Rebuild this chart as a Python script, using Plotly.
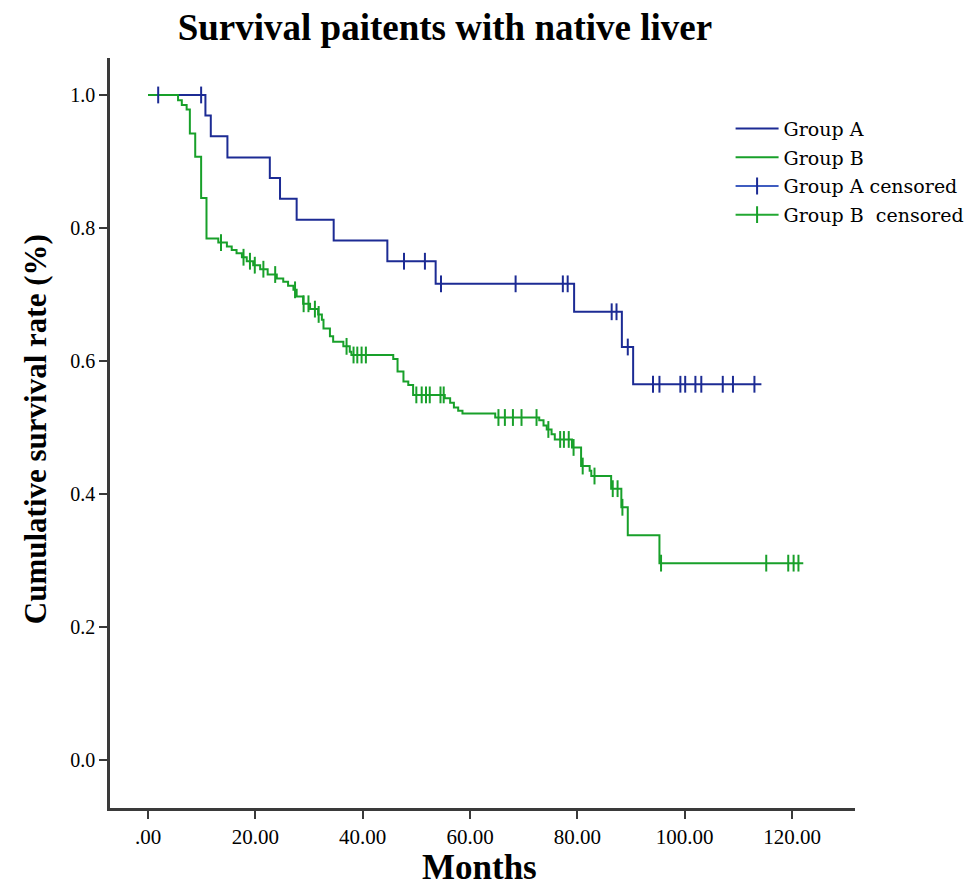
import plotly.graph_objects as go

# ---- Data (Kaplan-Meier step points) ----
group_a_times = [0, 10.7, 11.7, 14.8, 22.7, 24.6, 27.7, 34.6, 44.6, 53.6, 79.4, 88.3, 90.4]
group_a_surv = [1.0, 0.969, 0.938, 0.906, 0.875, 0.844, 0.8125, 0.781, 0.750, 0.716, 0.674, 0.621, 0.565]
group_a_end = 114.3
group_a_censored = [1.9, 9.9, 47.7, 51.6, 54.6, 68.5, 77.3, 78.2, 86.4, 87.3, 89.4,
                    94.1, 95.3, 99.2, 100.1, 102.0, 103.1, 107.1, 109.0, 113.0]

group_b_times = [0, 5.6, 6.3, 7.2, 7.8, 8.8, 9.9, 10.9, 13.1, 14.7, 15.6, 16.5, 17.5, 18.4,
                 19.6, 20.9, 22.3, 24.0, 25.2, 26.1, 27.1, 27.7, 28.9, 30.2, 31.7, 32.4,
                 32.7, 33.9, 34.5, 36.4, 37.6, 37.9, 45.7, 46.5, 47.6, 48.5, 49.4, 55.3,
                 56.3, 57.0, 57.8, 58.6, 64.7, 72.9, 73.7, 74.3, 75.2, 75.8, 79.0, 80.7,
                 82.3, 82.6, 86.3, 88.2, 89.4, 95.3]
group_b_surv = [1.0, 0.992, 0.985, 0.978, 0.942, 0.907, 0.845, 0.784, 0.778, 0.772, 0.767,
                0.762, 0.756, 0.750, 0.744, 0.738, 0.730, 0.724, 0.719, 0.713, 0.707, 0.697,
                0.686, 0.678, 0.670, 0.662, 0.649, 0.637, 0.629, 0.622, 0.614, 0.609, 0.603,
                0.584, 0.569, 0.564, 0.549, 0.544, 0.537, 0.530, 0.525, 0.521, 0.515, 0.511,
                0.503, 0.497, 0.490, 0.482, 0.470, 0.442, 0.435, 0.427, 0.408, 0.380, 0.338,
                0.296]
group_b_end = 122.1
group_b_censored = [13.6, 17.8, 19.0, 19.9, 21.5, 23.7, 27.4, 29.0, 29.9, 31.1, 31.8, 37.0,
                    38.3, 39.0, 39.8, 40.6, 50.0, 51.0, 51.8, 52.5, 54.5, 55.1, 65.3, 66.5,
                    68.0, 69.6, 72.4, 74.6, 76.8, 77.5, 78.4, 79.3, 81.0, 83.2, 86.6, 87.5,
                    88.4, 95.6, 115.2, 119.3, 120.3, 121.2]

x_tick_vals = [0, 20, 40, 60, 80, 100, 120]
x_tick_text = [".00", "20.00", "40.00", "60.00", "80.00", "100.00", "120.00"]
y_tick_vals = [0.0, 0.2, 0.4, 0.6, 0.8, 1.0]
y_tick_text = ["0.0", "0.2", "0.4", "0.6", "0.8", "1.0"]

BLUE = "#1c2b94"
GREEN = "#18a02a"
BLUE_L = "#3f5cc0"
GREEN_L = "#22a832"


def step_value(times, surv, t):
    v = surv[0]
    for ti, si in zip(times, surv):
        if ti <= t:
            v = si
        else:
            break
    return v


def isolated(xs, ys):
    ox, oy = [], []
    for a, b in zip(xs, ys):
        ox += [a, None]
        oy += [b, None]
    return ox, oy


fig = go.Figure()

fig.add_trace(go.Scatter(
    x=group_a_times + [group_a_end], y=group_a_surv + [group_a_surv[-1]],
    mode="lines", line=dict(color=BLUE, width=2, shape="hv"),
    name="Group A", legendgroup="a"))
fig.add_trace(go.Scatter(
    x=group_b_times + [group_b_end], y=group_b_surv + [group_b_surv[-1]],
    mode="lines", line=dict(color=GREEN, width=2, shape="hv"),
    name="Group B", legendgroup="b"))

ca_x, ca_y = isolated(group_a_censored,
                      [step_value(group_a_times, group_a_surv, t) for t in group_a_censored])
cb_x, cb_y = isolated(group_b_censored,
                      [step_value(group_b_times, group_b_surv, t) for t in group_b_censored])

fig.add_trace(go.Scatter(
    x=ca_x, y=ca_y, mode="lines+markers", connectgaps=False,
    line=dict(color=BLUE_L, width=2),
    marker=dict(symbol="line-ns", size=12, line=dict(color=BLUE, width=2)),
    name="Group A censored", legendgroup="ac"))
fig.add_trace(go.Scatter(
    x=cb_x, y=cb_y, mode="lines+markers", connectgaps=False,
    line=dict(color=GREEN_L, width=2),
    marker=dict(symbol="line-ns", size=12, line=dict(color=GREEN, width=2)),
    name="Group B  censored", legendgroup="bc"))

SERIF = "Liberation Serif"

fig.update_layout(
    width=971, height=881,
    margin=dict(l=102, r=124, t=50, b=81, autoexpand=False),
    paper_bgcolor="white", plot_bgcolor="white",
    title=dict(text="Survival paitents with native liver",
               x=0.450, xanchor="center", y=0.978, yanchor="middle", xref="container",
               font=dict(family=SERIF, size=37, color="black", weight="bold")),
    legend=dict(x=0.833, y=0.931, xanchor="left", yanchor="top", itemwidth=43,
                font=dict(family="DejaVu Serif", size=19, color="black"),
                tracegroupgap=1, traceorder="grouped", bgcolor="rgba(0,0,0,0)"),
    showlegend=True,
    annotations=[
        dict(text="<b>Cumulative survival rate (%)</b>", textangle=-90,
             xref="paper", yref="paper", x=-0.1007, y=0.505,
             xanchor="center", yanchor="middle", showarrow=False,
             font=dict(family=SERIF, size=31, color="black")),
        dict(text="<b>Months</b>",
             xref="paper", yref="paper", x=0.4966, y=-0.0787,
             xanchor="center", yanchor="middle", showarrow=False,
             font=dict(family=SERIF, size=35, color="black")),
    ],
)

fig.update_xaxes(
    range=[-7.08, 131.74], tickvals=x_tick_vals, ticktext=x_tick_text, automargin=False,
    showgrid=False, zeroline=False, showline=True, linecolor="#3a3a3a", linewidth=2.5,
    ticks="outside", ticklen=8, tickwidth=2, tickcolor="#3a3a3a",
    tickfont=dict(family=SERIF, size=21, color="black"),
)
fig.update_yaxes(
    range=[-0.0722, 1.0556], tickvals=y_tick_vals, ticktext=y_tick_text, automargin=False,
    showgrid=False, zeroline=False, showline=True, linecolor="#3a3a3a", linewidth=2.5,
    ticks="outside", ticklen=8, tickwidth=2, tickcolor="#3a3a3a",
    tickfont=dict(family=SERIF, size=20, color="black"),
)

fig.write_html("out.html")
